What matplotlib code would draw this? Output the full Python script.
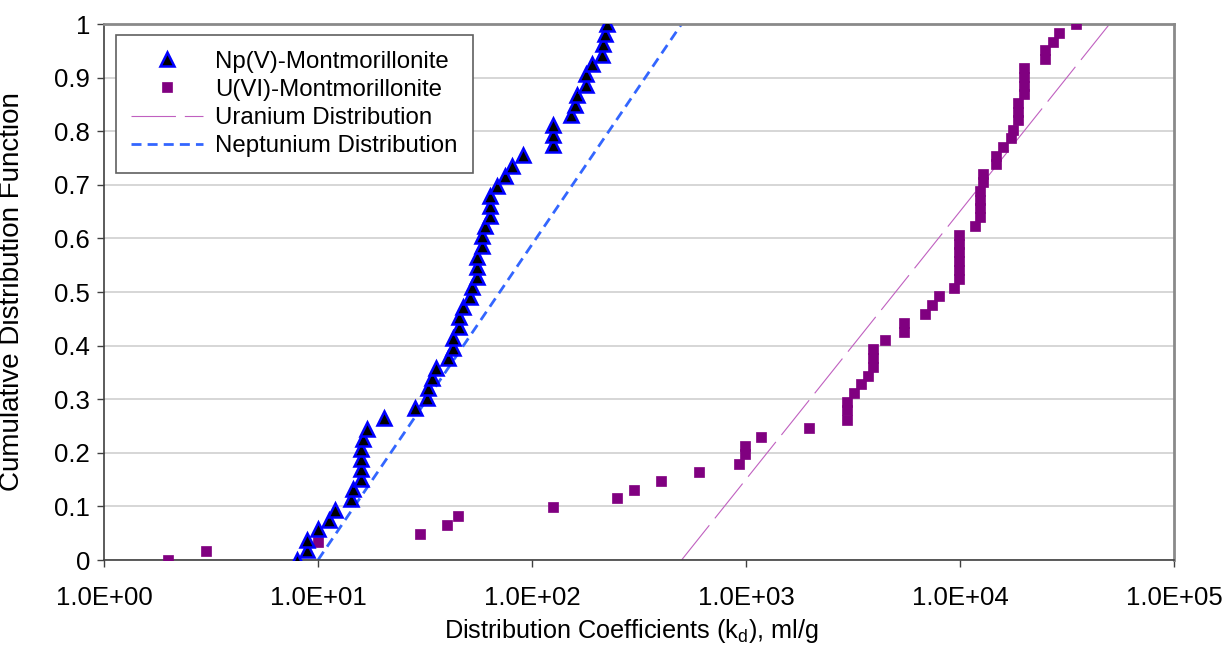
import numpy as np
import matplotlib.pyplot as plt
from matplotlib.ticker import FixedLocator, FuncFormatter

plt.rcParams['font.family'] = ['Liberation Sans', 'DejaVu Sans']

# Np(V) sorption on montmorillonite, kd in ml/g
np_kd = [8.0, 8.9, 8.9, 10.0, 11.2, 12.0, 14.2, 14.5, 15.9, 15.9,
         15.9, 15.9, 16.2, 16.9, 20.3, 28.4, 32.2, 32.8, 34.2, 35.5,
         40.4, 42.6, 42.6, 45.4, 45.4, 47.8, 51.2, 52.6, 55.5, 55.5,
         55.5, 58.2, 58.2, 60.3, 63.6, 63.6, 63.6, 68.4, 74.8, 80.9,
         90.5, 126, 126, 126, 152, 159, 162, 178, 178, 190,
         212, 214, 219, 225]
np_cdf = [0.000, 0.019, 0.038, 0.057, 0.075, 0.094, 0.113, 0.132, 0.151, 0.170,
          0.189, 0.208, 0.226, 0.245, 0.264, 0.283, 0.302, 0.321, 0.340, 0.358,
          0.377, 0.396, 0.415, 0.434, 0.453, 0.472, 0.491, 0.509, 0.528, 0.547,
          0.566, 0.585, 0.604, 0.623, 0.642, 0.660, 0.679, 0.698, 0.717, 0.736,
          0.755, 0.774, 0.792, 0.811, 0.830, 0.849, 0.868, 0.887, 0.906, 0.925,
          0.943, 0.962, 0.981, 1.000]

# U(VI) sorption on montmorillonite
u_kd = [2.0, 3.0, 10, 30, 40, 45, 125, 250, 300, 400,
        600, 930, 990, 990, 1180, 1970, 2950, 2950, 2950, 3200,
        3440, 3720, 3920, 3920, 3920, 4480, 5490, 5490, 6860, 7400,
        7980, 9400, 9930, 9930, 9930, 9930, 9930, 9930, 11750, 12400,
        12400, 12400, 12400, 12850, 12850, 14700, 14700, 15800, 17400, 17700,
        18700, 18700, 18700, 19900, 19900, 19900, 19900, 24900, 24900, 27300,
        29000, 34700]
u_cdf = [0.000, 0.016, 0.033, 0.049, 0.066, 0.082, 0.098, 0.115, 0.131, 0.148,
         0.164, 0.180, 0.197, 0.213, 0.230, 0.246, 0.262, 0.279, 0.295, 0.311,
         0.328, 0.344, 0.361, 0.377, 0.393, 0.410, 0.426, 0.443, 0.459, 0.475,
         0.492, 0.508, 0.525, 0.541, 0.557, 0.574, 0.590, 0.607, 0.623, 0.639,
         0.656, 0.672, 0.689, 0.705, 0.721, 0.738, 0.754, 0.770, 0.787, 0.803,
         0.820, 0.836, 0.852, 0.869, 0.885, 0.902, 0.918, 0.934, 0.951, 0.967,
         0.984, 1.000]

# fitted log-uniform distributions (end points)
u_dist_kd = [500, 50000]
u_dist_cdf = [0, 1]
np_dist_kd = [10, 500]
np_dist_cdf = [0, 1]

x_ticks = [1e0, 1e1, 1e2, 1e3, 1e4, 1e5]
y_ticks = [0, 0.1, 0.2, 0.3, 0.4, 0.5, 0.6, 0.7, 0.8, 0.9, 1]

fig = plt.figure(figsize=(12.26, 6.48), dpi=100)
ax = fig.add_axes([104 / 1226, 1 - 560 / 648, 1070 / 1226, 536 / 648])

ax.plot(np_kd, np_cdf, linestyle='none', marker='^', markersize=9.5,
        markerfacecolor='black', markeredgecolor='#0000ff', markeredgewidth=1.8,
        label='Np(V)-Montmorillonite', zorder=4)
ax.plot(u_kd, u_cdf, linestyle='none', marker='s', markersize=7.5,
        markerfacecolor='#800080', markeredgecolor='#800080', markeredgewidth=0.5,
        label='U(VI)-Montmorillonite', zorder=3)
ax.plot(u_dist_kd, u_dist_cdf, color='#c060c0', linewidth=0.8,
        dashes=(40, 8), label='Uranium Distribution', zorder=2)
ax.plot(np_dist_kd, np_dist_cdf, color='#3366ff', linewidth=2.0,
        dashes=(3.6, 2.2), label='Neptunium Distribution', zorder=2)

ax.set_xscale('log')
ax.set_xlim(1, 1e5)
ax.set_ylim(0, 1)
ax.xaxis.set_major_locator(FixedLocator(x_ticks))
ax.xaxis.set_minor_locator(FixedLocator([]))
ax.xaxis.set_major_formatter(FuncFormatter(lambda v, p: '%.1E' % v))
ax.set_yticks(y_ticks)
ax.set_yticklabels(['0', '0.1', '0.2', '0.3', '0.4', '0.5', '0.6', '0.7', '0.8', '0.9', '1'])

ax.grid(axis='y', color='#cfcfcf', linewidth=1.2)
ax.set_axisbelow(True)
ax.tick_params(axis='both', direction='out', length=5, width=1, color='#404040',
               labelsize=18.5, pad=5)
ax.tick_params(axis='x', pad=14)

for side in ['left', 'bottom']:
    ax.spines[side].set_color('#404040')
    ax.spines[side].set_linewidth(1.2)
for side in ['top', 'right']:
    ax.spines[side].set_color('#8a8a8a')
    ax.spines[side].set_linewidth(2.0)

ax.set_xlabel('Distribution Coefficients (k$_\\mathregular{d}$), ml/g', fontsize=18.2)
ax.xaxis.set_label_coords(0.493, -0.106)
ax.set_ylabel('Cumulative Distribution Function', fontsize=20)
ax.yaxis.set_label_coords(-0.074, 0.5)

leg = ax.legend(loc='upper left', bbox_to_anchor=(0.011, 0.9795), borderaxespad=0,
                fontsize=17.3, frameon=True, fancybox=False, framealpha=1,
                edgecolor='#606060', handlelength=3.0, handletextpad=0.5,
                labelspacing=0.26, borderpad=0.65)
leg.get_frame().set_linewidth(1.2)

fig.savefig('out.png', dpi=100)
